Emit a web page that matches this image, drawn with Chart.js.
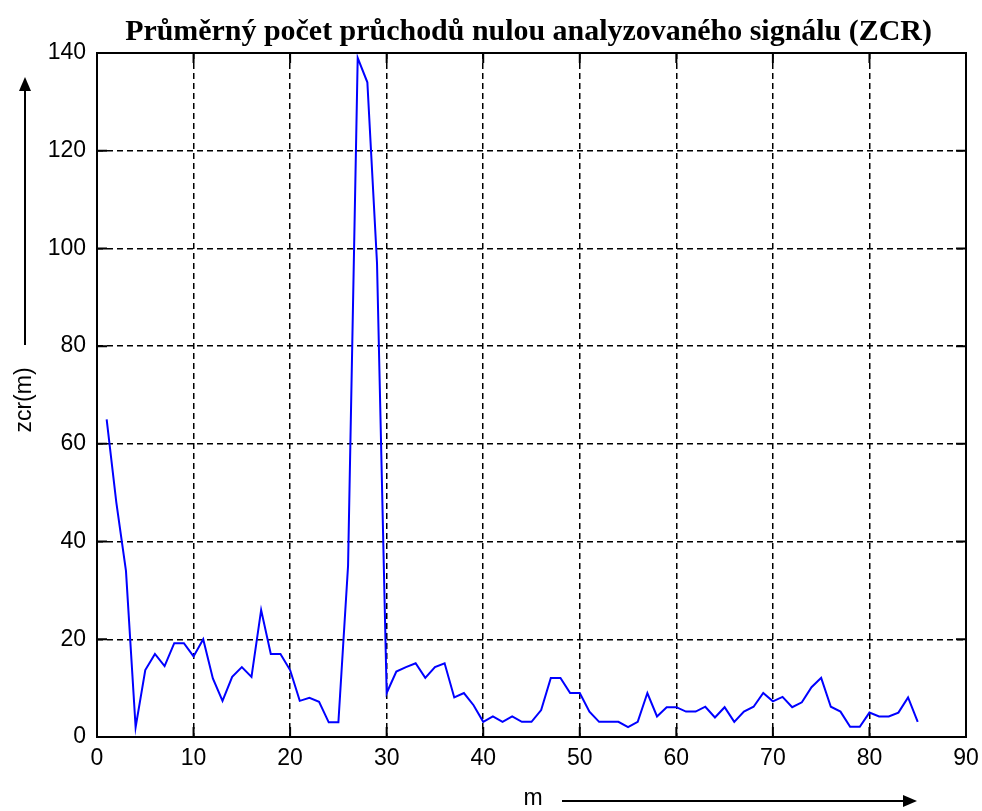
<!DOCTYPE html>
<html>
<head>
<meta charset="utf-8">
<script src="https://cdn.jsdelivr.net/npm/chart.js@4/dist/chart.umd.min.js"></script>
<style>
html,body{margin:0;padding:0;background:#fff;}
#wrap{width:982px;height:811px;position:relative;}
</style>
</head>
<body>
<div id="wrap"><canvas id="c" width="982" height="811"></canvas></div>
<script>
// ---- data ----
const titleText = "Průměrný počet průchodů nulou analyzovaného signálu (ZCR)";
const xLabel = "m";
const yLabel = "zcr(m)";
const mValues = [1,2,3,4,5,6,7,8,9,10,11,12,13,14,15,16,17,18,19,20,
  21,22,23,24,25,26,27,28,29,30,31,32,33,34,35,36,37,38,39,40,
  41,42,43,44,45,46,47,48,49,50,51,52,53,54,55,56,57,58,59,60,
  61,62,63,64,65,66,67,68,69,70,71,72,73,74,75,76,77,78,79,80,
  81,82,83,84,85];
const zcrValues = [65,48,34,2,13.7,17,14.5,19.2,19.2,16.5,20,12,7.4,12.3,14.3,12.3,26,17,17,13.7,
  7.4,8,7.2,3,3,35,139,134,97,9,13.4,14.3,15.1,12.1,14.3,15.1,8.1,9,6.5,3.1,
  4.2,3.1,4.2,3.1,3.1,5.5,12.1,12.1,9,9,5.2,3.1,3.1,3.1,2,3.1,9,4.2,6.1,6.1,
  5.2,5.2,6.2,4,6.1,3.1,5.2,6.2,9,7.3,8.2,6.1,7.1,10.2,12.1,6.2,5.2,2.1,2.1,5,
  4.2,4.2,5,8.1,3.1];
const xMin = 0, xMax = 90, xStep = 10;
const yMin = 0, yMax = 140, yStep = 20;

const points = mValues.map((m,i)=>({x:m, y:zcrValues[i]}));

const tickFont = {family:"'Liberation Sans', Arial, sans-serif", size:23};

const decor = {
  id:'decor',
  afterDraw(chart){
    const ctx = chart.ctx, a = chart.chartArea;
    const xs = chart.scales.x, ys = chart.scales.y;
    ctx.save();
    // box
    ctx.strokeStyle = '#000';
    ctx.lineWidth = 2;
    ctx.strokeRect(a.left, a.top, a.right-a.left, a.bottom-a.top);
    // inward ticks
    const tl = 10;
    ctx.beginPath();
    for(let v=xMin; v<=xMax; v+=xStep){
      const px = xs.getPixelForValue(v);
      ctx.moveTo(px, a.bottom); ctx.lineTo(px, a.bottom-tl);
      ctx.moveTo(px, a.top); ctx.lineTo(px, a.top+tl);
    }
    for(let v=yMin; v<=yMax; v+=yStep){
      const py = ys.getPixelForValue(v);
      ctx.moveTo(a.left, py); ctx.lineTo(a.left+tl, py);
      ctx.moveTo(a.right, py); ctx.lineTo(a.right-tl, py);
    }
    ctx.stroke();
    // title
    ctx.fillStyle = '#000';
    let fs = 24;
    ctx.font = "bold "+fs+"px 'Liberation Serif', 'Times New Roman', serif";
    const w = ctx.measureText(titleText).width;
    fs = fs * 807 / w;
    ctx.font = "bold "+fs.toFixed(2)+"px 'Liberation Serif', 'Times New Roman', serif";
    ctx.textAlign = 'center';
    ctx.textBaseline = 'alphabetic';
    ctx.fillText(titleText, 528.5, 40);
    // x label + arrow
    ctx.font = "23px 'Liberation Sans', Arial, sans-serif";
    ctx.textBaseline = 'middle';
    ctx.fillText(xLabel, 533, 799);
    ctx.lineWidth = 2;
    ctx.beginPath(); ctx.moveTo(562, 801); ctx.lineTo(906, 801); ctx.stroke();
    ctx.beginPath(); ctx.moveTo(917, 801); ctx.lineTo(903, 795); ctx.lineTo(903, 807); ctx.closePath(); ctx.fill();
    // y label + arrow
    ctx.save();
    ctx.translate(25, 400);
    ctx.rotate(-Math.PI/2);
    ctx.fillText(yLabel, 0, 0);
    ctx.restore();
    ctx.beginPath(); ctx.moveTo(25, 345); ctx.lineTo(25, 88); ctx.stroke();
    ctx.beginPath(); ctx.moveTo(25, 77); ctx.lineTo(19, 91); ctx.lineTo(31, 91); ctx.closePath(); ctx.fill();
    ctx.restore();
  }
};

new Chart(document.getElementById('c'), {
  type:'line',
  data:{datasets:[{
    data:points,
    borderColor:'#0000ff',
    borderWidth:2,
    pointRadius:0,
    tension:0,
    fill:false
  }]},
  options:{
    responsive:false,
    animation:false,
    events:[],
    layout:{padding:{top:53,right:16,left:0,bottom:0}},
    plugins:{legend:{display:false},title:{display:false},tooltip:{enabled:false}},
    scales:{
      x:{type:'linear',min:xMin,max:xMax,
        afterFit(s){s.height=74; s.paddingLeft=0; s.paddingRight=0;},
        ticks:{stepSize:xStep,color:'#000',font:tickFont,padding:8,maxRotation:0},
        grid:{color:'#000',lineWidth:1.5,drawTicks:false},
        border:{display:false,dash:[6,4]}
      },
      y:{type:'linear',min:yMin,max:yMax,
        afterFit(s){s.width=97; s.paddingTop=0; s.paddingBottom=0;},
        ticks:{stepSize:yStep,color:'#000',font:tickFont,padding:11},
        grid:{color:'#000',lineWidth:1.5,drawTicks:false},
        border:{display:false,dash:[6,4]}
      }
    }
  },
  plugins:[decor]
});
</script>
</body>
</html>
